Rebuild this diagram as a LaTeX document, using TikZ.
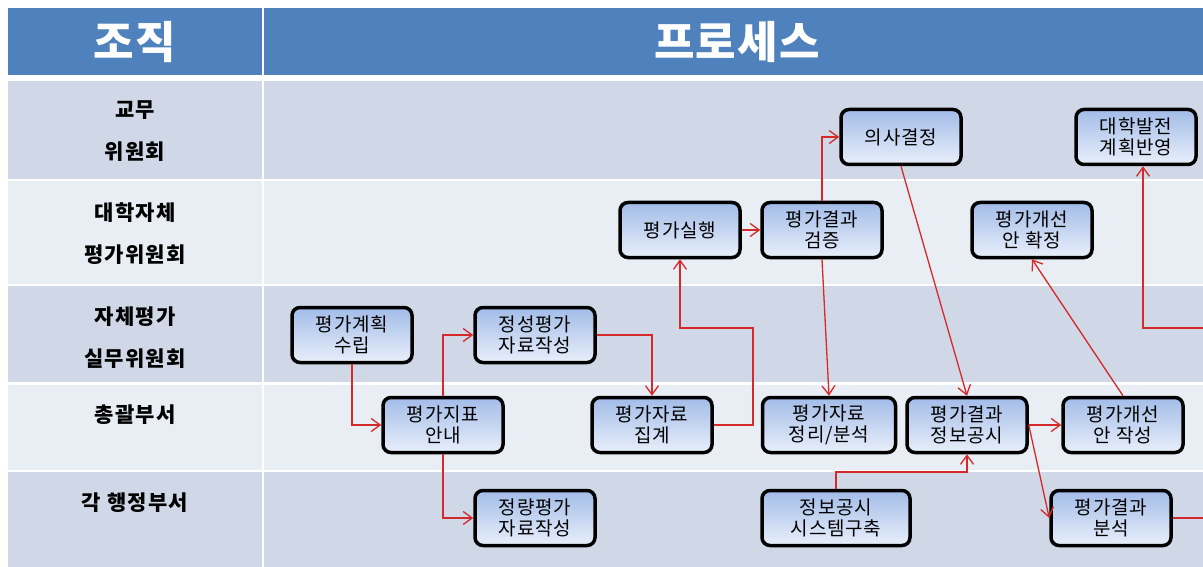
\documentclass[tikz,border=0pt]{standalone}
\usepackage{fontspec}
\setmainfont{Noto Sans CJK KR}
\usepackage{tikz}
\usetikzlibrary{arrows.meta}

\definecolor{headblue}{HTML}{4F81BD}
\definecolor{rowdark}{HTML}{D0D8E8}
\definecolor{rowlight}{HTML}{E9EDF4}
\definecolor{boxtop}{HTML}{A2BCE8}
\definecolor{boxbottom}{HTML}{E9EFFA}
\definecolor{flowred}{HTML}{D42A2A}

\tikzset{
    procbox/.style={rectangle, rounded corners=8pt, draw=black, line width=3.5pt,
        top color=boxtop, bottom color=boxbottom, minimum width=120pt, minimum height=55pt,
        align=center, inner sep=2pt, font=\fontsize{19}{21}\selectfont\addfontfeatures{LetterSpace=4}},
    orglabel/.style={align=center, font=\bfseries\fontsize{21}{42}\selectfont\addfontfeatures{LetterSpace=6}},
    headlabel/.style={text=white, font=\bfseries\fontsize{44}{44}\selectfont\addfontfeatures{LetterSpace=3}},
    flow/.style={draw=flowred, line width=1.3pt}
}

\begin{document}
\begin{tikzpicture}[x=1pt, y=-1pt, >={Straight Barb[length=9pt,width=13pt]}]
    \useasboundingbox (0,0) rectangle (1203,567);
    \clip (0,0) rectangle (1203,567);
    \fill[white] (0,0) rectangle (1203,567);

    % header
    \fill[headblue] (8,8) rectangle (262,75);
    \fill[headblue] (264,8) rectangle (1203,75);
    \node[headlabel] (orghead) at (135,42) {조직};
    \node[headlabel] (prochead) at (737,42) {프로세스};

    % lanes
    \foreach \ytop/\ybot/\shade in {81/179/rowdark, 181/284/rowlight, 286/382/rowdark, 385/470/rowlight, 472/567/rowdark} {
        \fill[\shade] (8,\ytop) rectangle (262,\ybot);
        \fill[\shade] (264,\ytop) rectangle (1203,\ybot);
    }

    \node[orglabel] (lane1) at (135,131) {교무\\위원회};
    \node[orglabel] (lane2) at (135,234) {대학자체\\평가위원회};
    \node[orglabel] (lane3) at (135,338) {자체평가\\실무위원회};
    \node[orglabel] (lane4) at (135,415) {총괄부서};
    \node[orglabel] (lane5) at (135,503) {각 행정부서};

    % process boxes
    \node[procbox] (plan) at (352,335) {평가계획\\수립};
    \node[procbox] (guide) at (443,425) {평가지표\\안내};
    \node[procbox] (qual) at (535,335) {정성평가\\자료작성};
    \node[procbox] (quant) at (535,518) {정량평가\\자료작성};
    \node[procbox] (collect) at (652,425) {평가자료\\집계};
    \node[procbox] (exec) at (680,230) {평가실행};
    \node[procbox] (verify) at (822,230) {평가결과\\검증};
    \node[procbox] (decide) at (901,137) {의사결정};
    \node[procbox, minimum width=133pt] (analyze) at (829,425) {평가자료\\정리/분석};
    \node[procbox] (disclose) at (967,425) {평가결과\\정보공시};
    \node[procbox] (improve) at (1123,425) {평가개선\\안 작성};
    \node[procbox] (confirm) at (1032,230) {평가개선\\안 확정};
    \node[procbox] (reflect) at (1136,137) {대학발전\\계획반영};
    \node[procbox, minimum width=148pt] (system) at (836,518) {정보공시\\시스템구축};
    \node[procbox] (result) at (1111,518) {평가결과\\분석};

    \coordinate (bend1) at (753,328);
    \coordinate (bend2) at (836,472);
    \coordinate (offR) at (1215,328);

    % connectors
    \draw[flow,->] (plan) |- (guide);
    \draw[flow,->] (guide.north) |- (qual);
    \draw[flow,->] (guide.south) |- (quant);
    \draw[flow,->] (qual) -| (collect);
    \draw[flow,->] (collect.east) -| (bend1) -| (exec.south);
    \draw[flow,->] (exec) -- (verify);
    \draw[flow,->] (verify.north) |- (decide);
    \draw[flow,->] (verify.south) -- (analyze.north);
    \draw[flow,->] (decide.south) -- (disclose.north);
    \draw[flow,->] (system.north) -- (bend2) -| (disclose.south);
    \draw[flow,->] (disclose.east) -- (improve.west);
    \draw[flow,->] (disclose.east) -- (result.west);
    \draw[flow,->] (improve.north) -- (confirm.south);
    \draw[flow,->] (result.east) -| (offR) -| ([xshift=7pt]reflect.south);
\end{tikzpicture}
\end{document}
